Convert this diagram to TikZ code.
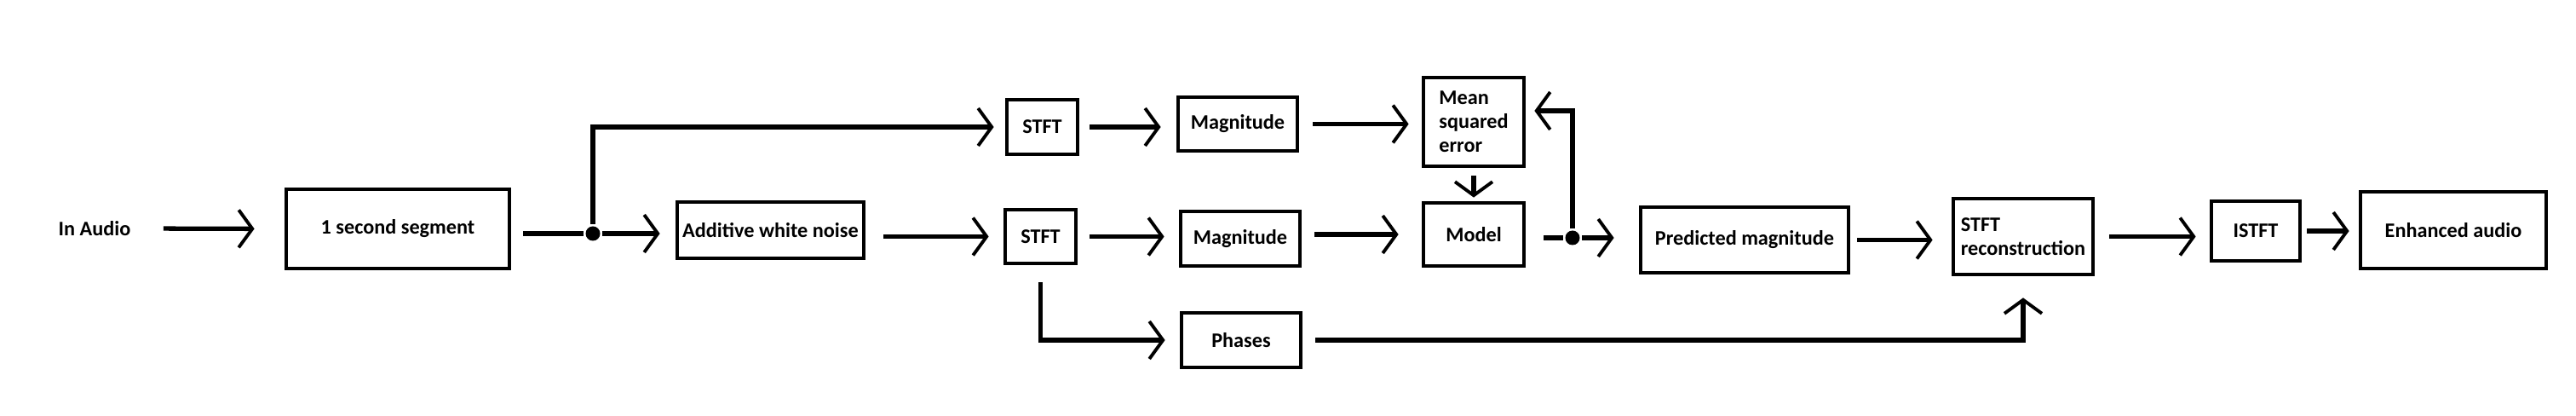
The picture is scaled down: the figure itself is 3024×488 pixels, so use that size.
\documentclass[tikz,border=0pt]{standalone}
\usepackage{fontspec}
\setmainfont{Carlito}
\usetikzlibrary{arrows.meta,positioning}

\begin{document}
\begin{tikzpicture}[x=0.1mm,y=-0.1mm,line width=1.5pt,>={Straight Barb[length=1.6mm,width=4.4mm,line width=1.1pt]},
  every node/.style={font=\bfseries\fontsize{6.9}{8}\selectfont,inner sep=0pt},
  block/.style={draw,line width=1.35pt,align=center},
  dot/.style={circle,fill,minimum size=1.7mm}]
\useasboundingbox (0,0) rectangle (3024,488);

\node (audio) at (111,268) {In Audio};
\node[block,minimum width=26.2mm,minimum height=9.3mm] (seg) at (467,268.5) {1 second segment};
\node[dot] (j1) at (696,274) {};
\node[block,minimum width=21.9mm,minimum height=6.6mm] (noise) at (904.5,270) {Additive white noise};
\node[block,minimum width=8.3mm,minimum height=6.4mm] (stfta) at (1223.5,149) {STFT};
\node[block,minimum width=8.3mm,minimum height=6.3mm] (stftb) at (1221.5,277.5) {STFT};
\node[block,minimum width=14mm,minimum height=6.3mm] (maga) at (1453,145.5) {Magnitude};
\node[block,minimum width=14mm,minimum height=6.4mm] (magb) at (1456,280) {Magnitude};
\node[block,minimum width=14mm,minimum height=6.4mm] (phases) at (1457,399) {Phases};
\node[block,align=left,minimum width=11.8mm,minimum height=10.4mm] (mse) at (1730,143) {Mean\\squared\\error};
\node[block,minimum width=11.8mm,minimum height=7.4mm] (model) at (1730,275) {Model};
\node[dot] (j2) at (1846,279) {};
\node[block,minimum width=24.4mm,minimum height=7.7mm] (pred) at (2048,281.5) {Predicted magnitude};
\node[block,align=left,minimum width=16.4mm,minimum height=8.9mm] (recon) at (2375,277.5) {STFT\\reconstruction};
\node[block,minimum width=10.4mm,minimum height=7mm] (istft) at (2648,271) {ISTFT};
\node[block,minimum width=21.8mm,minimum height=9mm] (enh) at (2880,270) {Enhanced audio};

% clean and noisy branch
\draw[->,shorten <=3.6mm,shorten >=3.5mm] (audio.east) -- (seg.west);
\draw[shorten <=1.4mm] (seg.east |- j1) -- (j1);
\draw[->,shorten >=1.8mm] (j1) -- (j1 -| noise.west);
\draw[->,shorten >=1.3mm] (j1) |- (stfta.west);
\draw[->,shorten <=2.1mm,shorten >=1.7mm] (stftb.west -| noise.east) -- (stftb.west);
\draw[->,shorten <=1.2mm,shorten >=1.8mm] (stfta.east) -- (stfta.east -| maga.west);
\draw[->,shorten <=1.6mm,shorten >=1.5mm] (maga.east) -- (maga.east -| mse.west);
\draw[->,shorten <=1.4mm,shorten >=1.7mm] (stftb.east) -- (stftb.east -| magb.west);
\draw[->,shorten <=1.5mm,shorten >=2.7mm] (model.west -| magb.east) -- (model.west);
\draw[->,shorten <=2mm,shorten >=1.7mm] (stftb.south) |- (phases.west);

% model and loss
\draw[->,shorten <=0.9mm,shorten >=0.4mm] (mse) -- (model);
\draw[shorten <=2.1mm] (model.east |- j2) -- (j2);
\draw[->,shorten >=2.9mm] (j2) -- (j2 -| pred.west);
\draw[->,shorten >=1mm] (j2) |- ([yshift=1.3mm]mse.east);

% reconstruction
\draw[->,shorten <=0.8mm,shorten >=2.2mm] (pred.east) -- (pred.east -| recon.west);
\draw[->,shorten <=1.5mm,shorten >=2.5mm] (phases.east) -| (recon.south);
\draw[->,shorten <=1.7mm,shorten >=1.6mm] (recon.east) -- (recon.east -| istft.west);
\draw[->,shorten <=0.6mm,shorten >=1.1mm] (istft.east) -- (istft.east -| enh.west);
\end{tikzpicture}
\end{document}
